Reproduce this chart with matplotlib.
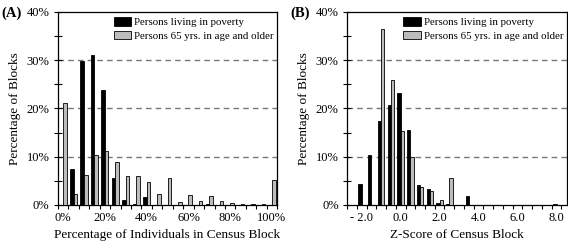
import matplotlib
matplotlib.use("Agg")
import matplotlib.pyplot as plt
import numpy as np

plt.rcParams['font.family'] = ['Liberation Serif', 'DejaVu Serif']

# panel A: percentage of individuals in census block (5% bins)
pct_bins = list(range(0, 101, 5))
pct_poverty = [0, 7.5, 29.8, 31.0, 23.8, 5.6, 1.1, 0.2, 1.7, 0, 0,
               0, 0, 0, 0.3, 0, 0, 0, 0, 0, 0]
pct_older = [21.2, 2.3, 6.3, 10.3, 11.1, 8.8, 6.1, 6.1, 4.7, 2.3, 5.5,
             0.7, 2.1, 0.9, 1.8, 0.9, 0.4, 0.3, 0.3, 0.1, 5.1]
pct_labels = ['0%', '20%', '40%', '60%', '80%', '100%']

# panel B: z-score of census block (0.5 bins)
z_bins = [-2.5, -2.0, -1.5, -1.0, -0.5, 0.0, 0.5, 1.0, 1.5, 2.0, 2.5,
          3.0, 3.5, 4.0, 4.5, 5.0, 5.5, 6.0, 6.5, 7.0, 7.5, 8.0]
z_poverty = [0, 4.3, 10.3, 17.5, 20.7, 23.3, 15.5, 4.2, 3.3, 0.5, 0.2,
             0, 1.8, 0, 0, 0, 0, 0, 0, 0, 0, 0.3]
z_older = [0, 0, 0, 36.5, 25.8, 15.3, 10.0, 3.8, 2.9, 1.0, 5.5,
           0, 0, 0, 0, 0, 0, 0, 0, 0, 0, 0]
z_labels = ['- 2.0', '0.0', '2.0', '4.0', '6.0', '8.0']

GRAY = '#bcbcbc'
W = 0.34

fig = plt.figure(figsize=(5.68, 2.44), dpi=100)


def panel(rect, cats, black, gray, labels, label_start, right_pad, xlabel, tag):
    ax = fig.add_axes(rect)
    idx = np.arange(len(cats))
    ax.bar(idx - W / 2, black, width=W, color='black', edgecolor='black',
           linewidth=0.6, label='Persons living in poverty', zorder=3)
    ax.bar(idx + W / 2, gray, width=W, color=GRAY, edgecolor='black',
           linewidth=0.6, label='Persons 65 yrs. in age and older', zorder=3)
    ax.set_xlim(-0.5, len(cats) - 0.5 + right_pad)
    ax.set_ylim(0, 40)
    for y in (10, 20, 30):
        ax.axhline(y, color='#777777', linewidth=1.0, dashes=(4, 3), zorder=1)

    # category boundaries as ticks, labels at category centres
    ax.set_xticks(np.arange(-0.5, len(cats), 1.0))
    ax.set_xticklabels([])
    ax.tick_params(axis='x', which='major', direction='out', length=3,
                   width=0.8)
    ax.set_xticks(idx[label_start::4], minor=True)
    ax.set_xticklabels(labels, minor=True, fontsize=9)
    ax.tick_params(axis='x', which='minor', length=0, pad=5)

    ax.set_yticks([0, 10, 20, 30, 40])
    ax.set_yticklabels(['0%', '10%', '20%', '30%', '40%'], fontsize=9)
    ax.set_yticks([5, 15, 25, 35], minor=True)
    ax.tick_params(axis='y', which='both', direction='inout', length=6,
                   width=0.8, pad=3)
    for s in ax.spines.values():
        s.set_linewidth(0.9)

    ax.set_xlabel(xlabel, fontsize=9.5, labelpad=4)
    ax.set_ylabel('Percentage of Blocks', fontsize=9.5, labelpad=4)
    ax.legend(loc='upper right', frameon=False, fontsize=7.8,
              handlelength=1.6, handleheight=0.8, handletextpad=0.3,
              labelspacing=0.35, borderaxespad=0.3, borderpad=0.2,
              bbox_to_anchor=(1.01, 1.0))
    fig.text(rect[0] - 0.1, 0.975, tag, fontsize=10.5, fontweight='bold',
             va='top', ha='left')
    return ax


panel([0.102, 0.16, 0.386, 0.791], pct_bins, pct_poverty, pct_older,
      pct_labels, 0, 0.0, 'Percentage of Individuals in Census Block', '(A)')
panel([0.611, 0.16, 0.387, 0.791], z_bins, z_poverty, z_older,
      z_labels, 1, 0.56, 'Z-Score of Census Block', '(B)')

fig.savefig('out.png', dpi=100)
